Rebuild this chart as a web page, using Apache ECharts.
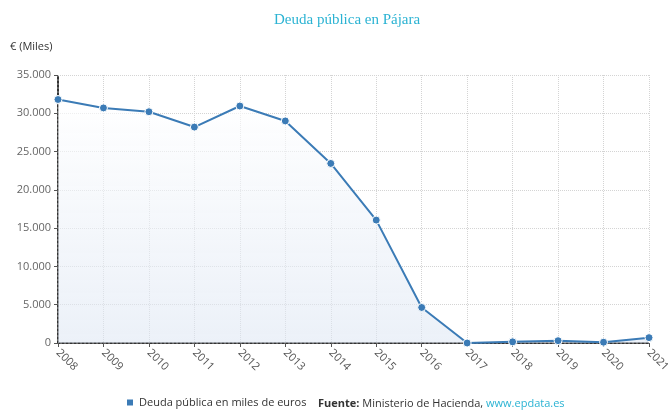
<!DOCTYPE html>
<html><head><meta charset="utf-8">
<script src="https://cdn.jsdelivr.net/npm/echarts@6/dist/echarts.min.js"></script>
<style>html,body{margin:0;padding:0;background:#fff}#c{width:668px;height:410px}</style>
</head><body><div id="c"></div>
<script>
const years = ['2008','2009','2010','2011','2012','2013','2014','2015','2016','2017','2018','2019','2020','2021'];
const deuda = [31800, 30700, 30200, 28200, 30950, 29000, 23450, 16050, 4640, 0, 150, 300, 100, 700];
const yTicks = [0, 5000, 10000, 15000, 20000, 25000, 30000, 35000];

const chart = echarts.init(document.getElementById('c'));
const fmt = v => String(v).replace(/\B(?=(\d{3})+(?!\d))/g, '.');
chart.setOption({
  animation: false,
  title: {
    text: 'Deuda pública en Pájara', left: 269, top: 8,
    textStyle: {fontFamily: 'Liberation Serif', fontWeight: 'normal', fontSize: 15, color: '#2bb3d3'}
  },
  graphic: [
    {type: 'text', left: 10, top: 41, style: {text: '€ (Miles)', fontFamily: 'Open Sans', fontSize: 11, fill: '#333'}},
    {type: 'text', left: 318, top: 398, style: {
      text: '{b|Fuente:} {n|Ministerio de Hacienda,} {l|www.epdata.es}',
      fontFamily: 'Open Sans', fontSize: 11, fill: '#333',
      rich: {
        b: {fontFamily: 'Open Sans', fontWeight: 'bold', fontSize: 11, fill: '#333'},
        n: {fontFamily: 'Open Sans', fontSize: 11, fill: '#333'},
        l: {fontFamily: 'Open Sans', fontSize: 11, fill: '#2bb3d3'}
      }
    }}
  ],
  legend: {
    left: 125, top: 397, itemWidth: 8, itemHeight: 8, icon: 'rect', itemGap: 5, padding: 0,
    textStyle: {fontFamily: 'Open Sans', fontSize: 11, color: '#333'}
  },
  grid: {left: 58, right: 19, top: 75, bottom: 67, containLabel: false, outerBoundsMode: 'none'},
  xAxis: {
    type: 'category', data: years, boundaryGap: false,
    axisLine: {lineStyle: {color: '#333', type: 'dotted', width: 2}},
    axisTick: {show: true, lineStyle: {color: '#555'}, length: 4},
    axisLabel: {rotate: -45, color: '#555', fontFamily: 'Open Sans', fontSize: 11, margin: 8},
    splitLine: {show: true, lineStyle: {color: '#d4d4d4', type: 'dotted'}}
  },
  yAxis: {
    type: 'value', min: 0, max: 35000, interval: 5000,
    axisLine: {show: true, lineStyle: {color: '#333', type: 'dotted', width: 2}},
    axisTick: {show: true, length: 4, lineStyle: {color: '#555'}},
    axisLabel: {color: '#666', fontFamily: 'Open Sans', fontSize: 11, margin: 7,
      formatter: v => yTicks.includes(v) ? fmt(v) : ''},
    splitLine: {lineStyle: {color: '#d4d4d4', type: 'dotted'}}
  },
  series: [{
    name: 'Deuda pública en miles de euros', type: 'line', data: deuda,
    symbol: 'circle', symbolSize: 8, showAllSymbol: true,
    lineStyle: {color: '#3b7bb6', width: 2},
    itemStyle: {color: '#3b7bb6', borderColor: '#fff', borderWidth: 1},
    areaStyle: {color: new echarts.graphic.LinearGradient(0, 0, 0, 1, [
      {offset: 0, color: 'rgba(255,255,255,0.9)'},
      {offset: 1, color: 'rgba(221,230,243,0.8)'}
    ])}
  }]
});
</script></body></html>
